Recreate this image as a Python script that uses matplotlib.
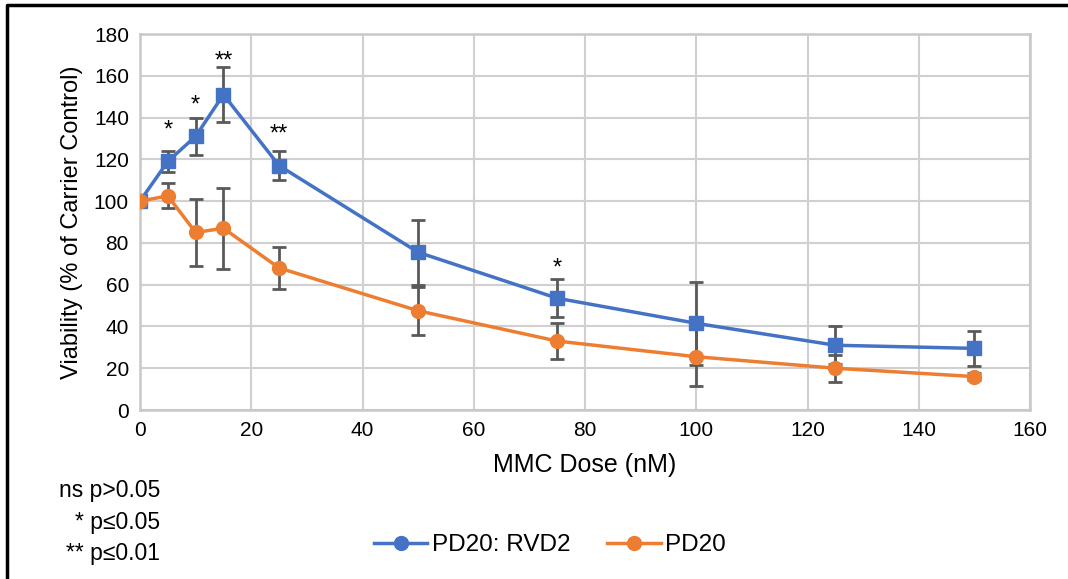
import numpy as np
import matplotlib.pyplot as plt
from matplotlib.lines import Line2D

plt.rcParams['font.family'] = ['Liberation Sans', 'DejaVu Sans']

dose = [0, 5, 10, 15, 25, 50, 75, 100, 125, 150]
rvd2 = [100, 119, 131, 151, 117, 75.5, 53.5, 41.5, 31, 29.5]
rvd2_err = [0, 5, 9, 13, 7, 15.5, 9, 20, 9, 8.5]
pd20 = [100, 102.5, 85, 87, 68, 47.5, 33, 25.5, 20, 16]
pd20_err = [0, 6, 16, 19.5, 10, 11.5, 8.5, 14, 6.5, 1.5]

# significance marks (x dose, star baseline in % units)
star_x = [5, 10, 15, 25, 75]
star_y = [131, 143, 164, 129, 65]
star_txt = ['*', '*', '**', '**', '*']

blue = '#4472C4'
orange = '#ED7D31'
errc = '#595959'

fig = plt.figure(figsize=(10.68, 5.79), dpi=100)
ax = fig.add_axes([140 / 1068, 1 - 410 / 579, 890 / 1068, 376 / 579])

ax.errorbar(dose, rvd2, yerr=rvd2_err, color=blue, lw=2.5, marker='s', ms=10,
            ecolor=errc, elinewidth=2, capsize=5, capthick=2, zorder=3)
ax.errorbar(dose, pd20, yerr=pd20_err, color=orange, lw=2.5, marker='o', ms=10,
            ecolor=errc, elinewidth=2, capsize=5, capthick=2, zorder=3)

for x, y, t in zip(star_x, star_y, star_txt):
    ax.text(x, y, t, ha='center', va='baseline', fontsize=17)

ax.set_xlim(0, 160)
ax.set_ylim(0, 180)
ax.set_xticks(np.arange(0, 161, 20))
ax.set_yticks(np.arange(0, 181, 20))
ax.grid(True, color='#d0d0d0', lw=1.5)
ax.set_axisbelow(True)
for s in ax.spines.values():
    s.set_color('#c8c8c8')
    s.set_linewidth(1.8)
ax.tick_params(length=0, labelsize=15, pad=8, colors='#000000')
ax.set_xlabel('MMC Dose (nM)', fontsize=18, labelpad=9)
ax.set_ylabel('Viability (% of Carrier Control)', fontsize=17, labelpad=8)

fig.text(160 / 1068, 1 - 522 / 579, 'ns p>0.05\n* p≤0.05\n** p≤0.01', ha='right',
         va='center', fontsize=16.5, linespacing=1.45, multialignment='right')

handles = [Line2D([], [], color=blue, lw=2.5, marker='o', ms=10),
           Line2D([], [], color=orange, lw=2.5, marker='o', ms=10)]
fig.legend(handles, ['PD20: RVD2', 'PD20'], loc='center', bbox_to_anchor=(550 / 1068, 1 - 545 / 579),
           ncol=2, frameon=False, fontsize=17.5, handlelength=2.2, handletextpad=0.2, columnspacing=1.5)

# outer frame: top and left edges only
fig.add_artist(Line2D([7 / 1068, 7 / 1068, 1], [0, 1 - 5 / 579, 1 - 5 / 579],
                      transform=fig.transFigure, color='black', lw=2.5))

fig.savefig('out.png', dpi=100)
